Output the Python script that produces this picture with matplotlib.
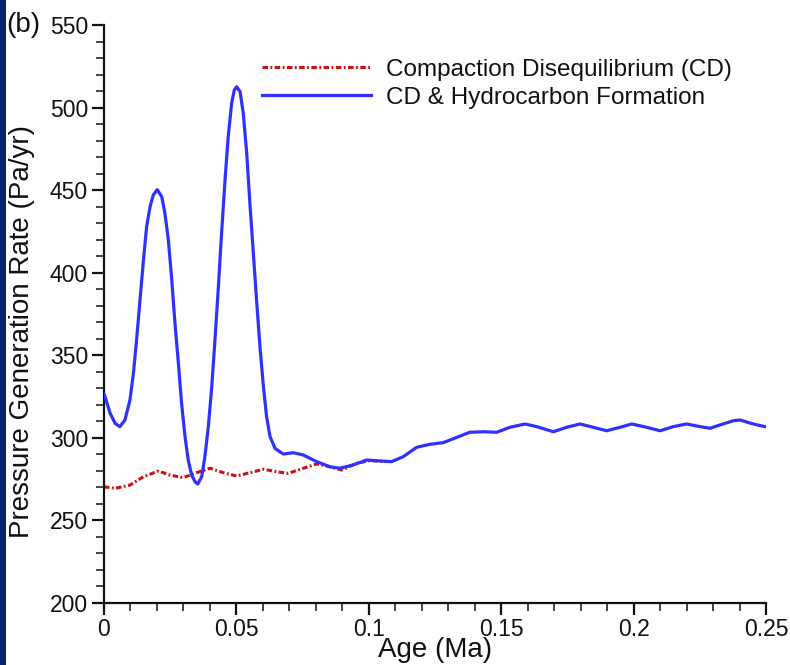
import matplotlib
matplotlib.use("Agg")
import matplotlib.pyplot as plt
from matplotlib.ticker import MultipleLocator, FixedLocator
from matplotlib.patches import Rectangle

plt.rcParams['font.family'] = ['Liberation Sans', 'DejaVu Sans']

# Blue: CD & Hydrocarbon Formation
age_hc = [0.0000, 0.0004, 0.0023, 0.0042, 0.0060, 0.0079, 0.0098, 0.0111, 0.0123, 0.0136,
          0.0149, 0.0161, 0.0174, 0.0186, 0.0201, 0.0218, 0.0230, 0.0243, 0.0256, 0.0268,
          0.0281, 0.0293, 0.0306, 0.0318, 0.0331, 0.0344, 0.0354, 0.0369, 0.0381, 0.0394,
          0.0407, 0.0419, 0.0432, 0.0444, 0.0457, 0.0469, 0.0482, 0.0492, 0.0501, 0.0514,
          0.0526, 0.0539, 0.0551, 0.0564, 0.0577, 0.0589, 0.0602, 0.0614, 0.0627, 0.0646,
          0.0677, 0.0715, 0.0753, 0.0803, 0.0853, 0.0891, 0.0941, 0.0992, 0.1042, 0.1086,
          0.1130, 0.1181, 0.1231, 0.1281, 0.1332, 0.1382, 0.1432, 0.1483, 0.1533, 0.1590,
          0.1634, 0.1697, 0.1747, 0.1798, 0.1848, 0.1898, 0.1949, 0.1993, 0.2049, 0.2100,
          0.2150, 0.2200, 0.2251, 0.2289, 0.2326, 0.2377, 0.2402, 0.2452, 0.2496]
rate_hc = [326.5, 324.9, 314.9, 308.8, 306.8, 310.8, 322.9, 339.0, 359.2, 383.5,
           407.7, 427.9, 440.0, 447.0, 450.3, 446.0, 436.0, 419.8, 395.6, 369.4,
           345.1, 320.9, 300.7, 286.6, 277.5, 273.4, 272.0, 276.5, 288.6, 306.8,
           331.0, 359.2, 391.5, 423.9, 456.1, 482.3, 502.6, 510.6, 512.6, 509.6,
           496.5, 472.3, 442.0, 411.7, 381.5, 355.2, 331.0, 312.8, 300.7, 293.6,
           290.2, 291.0, 289.6, 285.6, 282.5, 281.6, 283.6, 286.6, 286.0, 285.6,
           288.6, 294.3, 296.1, 297.1, 300.3, 303.4, 303.7, 303.4, 306.4, 308.4,
           306.8, 303.7, 306.4, 308.4, 306.4, 304.3, 306.4, 308.4, 306.4, 304.3,
           306.8, 308.4, 306.8, 305.8, 307.8, 310.4, 310.8, 308.4, 306.8]

# Red: Compaction Disequilibrium (CD)
age_cd = [0.0000, 0.0042, 0.0098, 0.0149, 0.0205, 0.0249, 0.0299, 0.0350, 0.0400, 0.0451,
          0.0501, 0.0551, 0.0602, 0.0652, 0.0696, 0.0753, 0.0803, 0.0853, 0.0898, 0.0954,
          0.1004, 0.1050]
rate_cd = [270.4, 269.4, 271.4, 276.5, 279.9, 277.5, 275.9, 278.9, 281.6, 278.9,
           276.9, 278.9, 281.0, 279.5, 278.5, 281.6, 284.2, 282.5, 280.5, 284.6,
           286.2, 285.8]

x_ticks = [0, 0.05, 0.1, 0.15, 0.2, 0.25]
x_tick_labels = ['0', '0.05', '0.1', '0.15', '0.2', '0.25']
y_ticks = [200, 250, 300, 350, 400, 450, 500, 550]

fig = plt.figure(figsize=(7.9, 6.65), dpi=100)
fig.patch.set_facecolor('white')
fig.patches.append(Rectangle((0, 0), 6 / 790, 1, transform=fig.transFigure,
                             facecolor='#06246a', edgecolor='none', zorder=0))

ax = fig.add_axes([104 / 790, 1 - 603 / 665, 662 / 790, 578 / 665])
ax.plot(age_cd, rate_cd, color='#cc1111', lw=2.2, linestyle=(0, (1.8, 0.8, 0.6, 0.8)),
        label='Compaction Disequilibrium (CD)', zorder=2)
ax.plot(age_hc, rate_hc, color='#3030ff', lw=2.3,
        label='CD & Hydrocarbon Formation', zorder=3)

ax.set_xlim(0, 0.25)
ax.set_ylim(200, 550)
ax.xaxis.set_major_locator(FixedLocator(x_ticks))
ax.set_xticklabels(x_tick_labels)
ax.yaxis.set_major_locator(FixedLocator(y_ticks))
ax.xaxis.set_minor_locator(MultipleLocator(0.01))
ax.yaxis.set_minor_locator(MultipleLocator(10))

for s in ['top', 'right']:
    ax.spines[s].set_visible(False)
for s in ['left', 'bottom']:
    ax.spines[s].set_linewidth(1.6)
    ax.spines[s].set_color('#111111')

ax.tick_params(which='major', direction='out', length=8.5, width=1.6,
               labelsize=16.5, pad=2, colors='#111111')
ax.tick_params(which='minor', direction='out', length=5.5, width=1.1, colors='#111111')
ax.tick_params(axis='y', which='major', pad=3)

ax.set_xlabel('Age (Ma)', fontsize=20, color='#111111')
ax.set_ylabel('Pressure Generation Rate (Pa/yr)', fontsize=20, color='#111111')
ax.xaxis.set_label_coords(0.50, -0.058)
ax.yaxis.set_label_coords(-0.104, 0.47)

leg = ax.legend(loc='upper left', bbox_to_anchor=(0.2387, 0.942), frameon=False,
                fontsize=17.5, handlelength=4.5, handletextpad=0.62,
                labelspacing=0.25, borderpad=0, borderaxespad=0)
for t in leg.get_texts():
    t.set_color('#111111')

fig.text(6 / 790, 1 - 25 / 665, '(b)', fontsize=20, va='center', ha='left', color='#111111')

fig.savefig('out.png', dpi=100)
